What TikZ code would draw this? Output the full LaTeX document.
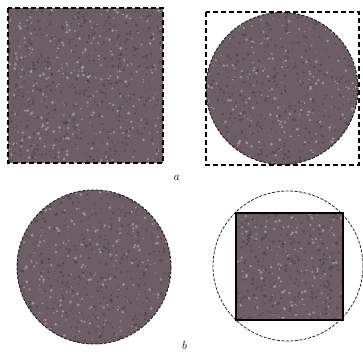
\documentclass[tikz,border=0pt]{standalone}
\usetikzlibrary{calc}
\definecolor{felt}{RGB}{108,94,100}
\definecolor{feltlight}{RGB}{185,175,182}
\definecolor{feltdark}{RGB}{62,52,60}
\tikzset{
  bigdash/.style={draw=black, line width=1.6pt, dash pattern=on 5pt off 3pt},
  smalldash/.style={draw=black!85, line width=1pt, dash pattern=on 3pt off 1.5pt},
  solidedge/.style={draw=black, line width=2pt},
  lbl/.style={font=\itshape\large, inner sep=0pt},
}
\newcommand{\speckle}[5]{% x0 y0 w h count
  \foreach \k in {1,...,#5}{
    \pgfmathsetmacro{\px}{#1+rnd*#3}
    \pgfmathsetmacro{\py}{#2+rnd*#4}
    \pgfmathsetmacro{\pr}{0.5+rnd*1.1}
    \pgfmathtruncatemacro{\pc}{mod(\k,3)}
    \ifnum\pc=0
      \fill[feltlight, opacity=0.65] (\px,\py) circle (\pr);
    \else
      \fill[feltdark, opacity=0.45] (\px,\py) circle (\pr);
    \fi
  }%
}
\begin{document}
\begin{tikzpicture}[x=1pt, y=-1pt]
\pgfmathsetseed{7}
\useasboundingbox (0,0) rectangle (363,353);
% top-left: filled square
\begin{scope}
  \clip (8,8) rectangle (163,163);
  \fill[felt] (8,8) rectangle (163,163);
  \speckle{8}{8}{155}{155}{900}
\end{scope}
\draw[bigdash] (8,8) rectangle (163,163);
% top-right: circle in dashed square
\begin{scope}
  \clip (282,88.5) circle (76);
  \fill[felt] (282,88.5) circle (76);
  \speckle{206}{12}{152}{153}{750}
\end{scope}
\draw[smalldash] (282,88.5) circle (76);
\draw[bigdash] (206,12) rectangle (359,165);
\node[lbl] (a) at (176,178) {a};
% bottom-left: filled circle
\begin{scope}
  \clip (94,267) circle (77);
  \fill[felt] (94,267) circle (77);
  \speckle{17}{190}{154}{154}{750}
\end{scope}
\draw[smalldash] (94,267) circle (77);
% bottom-right: square in dashed circle
\draw[smalldash, line width=0.8pt] (288,266) circle (75);
\begin{scope}
  \clip (236,213) rectangle (343,320);
  \fill[felt] (236,213) rectangle (343,320);
  \speckle{236}{213}{107}{107}{450}
\end{scope}
\draw[solidedge] (236,213) rectangle (343,320);
\node[lbl] (b) at (184,345) {b};
\end{tikzpicture}
\end{document}
